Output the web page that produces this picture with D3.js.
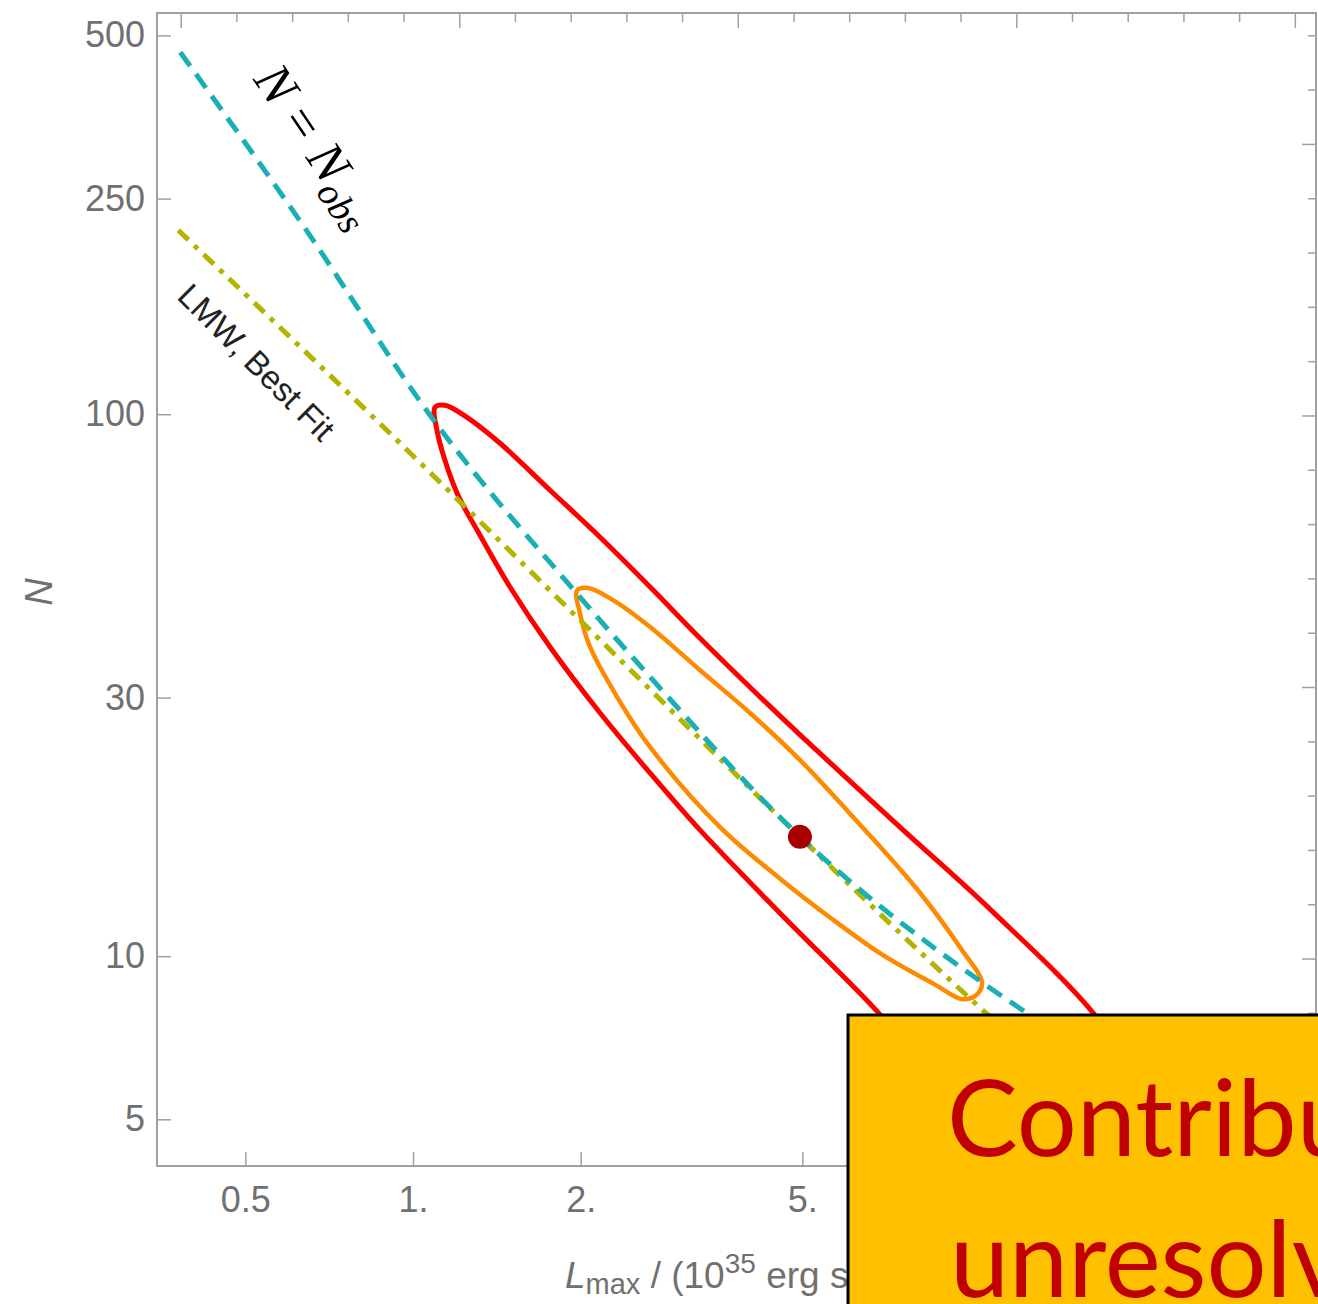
<!DOCTYPE html>
<html>
<head>
<meta charset="utf-8">
<script src="https://cdn.jsdelivr.net/npm/d3@7"></script>
<style>
body { margin: 0; background: #fff; overflow: hidden; }
</style>
</head>
<body>
<div id="chart"></div>
<script>
// values: [Lmax in 10^35 erg/s, N]
var nObsCurve = [[0.382, 465.6], [0.640, 220.3], [1.073, 99.6], [1.994, 45.97], [2.697, 32.3],
	[4.752, 17.3], [10.55, 8.92], [12.66, 7.85], [25.9, 4.78]];
var lmwCurve = [[0.379, 218.5], [0.948, 88.4], [1.994, 41.7], [4.75, 17.3], [10.68, 7.85], [25.9, 3.55]];
var outerContour = [[1.095, 103.0], [1.141, 103.9], [1.250, 98.7], [1.433, 88.4], [1.762, 72.4],
	[2.167, 59.3], [2.665, 48.0], [3.276, 38.6], [4.027, 31.35], [4.953, 25.6], [7.486, 17.3],
	[10.86, 12.21], [16.77, 7.78], [20.2, 5.78], [24.3, 4.12],
	[25.9, 3.12], [21.0, 2.87], [13.9, 3.70], [9.60, 5.43], [7.80, 6.71], [6.78, 7.95],
	[4.56, 12.0], [3.276, 17.08], [2.665, 21.76], [2.167, 28.1], [1.762, 37.2],
	[1.493, 48.0], [1.319, 59.8], [1.204, 70.9], [1.141, 82.2], [1.104, 93.4]];
var innerContour = [[1.970, 47.3], [2.062, 47.8], [2.286, 45.4], [2.665, 40.5], [3.276, 33.7],
	[4.027, 28.1], [4.953, 23.0], [6.066, 18.4], [8.03, 13.3], [9.67, 10.26], [10.51, 8.92],
	[10.21, 8.44], [9.67, 8.33], [8.62, 8.88], [6.98, 10.04], [5.63, 11.75], [4.56, 13.9],
	[3.557, 17.3], [2.665, 24.3], [2.324, 30.1], [2.079, 37.2], [1.994, 42.9]];
var bestFit = [[4.95, 16.6]];

var xTicks = [0.5, 1, 2, 5];
var xTickLabels = ["0.5", "1.", "2.", "5."];
var yTicks = [5, 10, 30, 100, 250, 500];
var topMinor = [1, 2, 3, 4, 6, 7, 8, 9, 11, 12, 13, 14, 16, 17, 18, 19];
var topMajor = [0, 5, 10, 15, 20];
var rightMinor = [0, 1, 3, 4, 5, 6, 8, 9, 10, 11, 13, 14, 15, 16, 18, 19, 20];
var rightMajor = [2, 7, 12, 17];

var frameL = 157, frameR = 1316, frameT = 13, frameB = 1166;
var frameColor = "#a0a0a0", labelColor = "#707070";

var svg = d3.select("#chart").append("svg")
	.attr("width", 1318)
	.attr("height", 1304)
	.style("font-family", "'Liberation Sans', Arial, sans-serif");

var x = d3.scaleLog().domain([0.347, 41.8]).range([frameL, frameR]);
var y = d3.scaleLog().domain([4.1, 550]).range([frameB, frameT]);
var xTop = d3.scaleLinear().domain([-0.4255, 20.38]).range([frameL, frameR]);
var yRight = d3.scaleLinear().domain([-0.411, 20.82]).range([frameT, frameB]);

svg.append("clipPath").attr("id", "plot")
	.append("rect")
	.attr("x", frameL).attr("y", frameT)
	.attr("width", frameR - frameL).attr("height", frameB - frameT);

function styleAxis(g) {
	g.select(".domain").remove();
	g.selectAll(".tick line").attr("stroke", frameColor).attr("stroke-width", 1.5);
	g.selectAll(".tick text").attr("fill", labelColor)
		.style("font-family", "'Liberation Sans', Arial, sans-serif")
		.style("font-size", "36px");
}

// frame
svg.append("rect")
	.attr("x", frameL).attr("y", frameT)
	.attr("width", frameR - frameL).attr("height", frameB - frameT)
	.attr("fill", "none")
	.attr("stroke", frameColor)
	.attr("stroke-width", 2);

svg.append("g")
	.attr("transform", "translate(0," + frameB + ")")
	.call(d3.axisBottom(x).tickValues(xTicks)
		.tickFormat(function (d, i) { return xTickLabels[i]; })
		.tickSize(-14).tickPadding(20).tickSizeOuter(0))
	.call(styleAxis);

svg.append("g")
	.attr("transform", "translate(" + frameL + ",0)")
	.call(d3.axisLeft(y).tickValues(yTicks)
		.tickFormat(d3.format("d"))
		.tickSize(-14).tickPadding(12).tickSizeOuter(0))
	.call(styleAxis);

svg.append("g")
	.attr("transform", "translate(0," + frameT + ")")
	.call(d3.axisTop(xTop).tickValues(topMinor).tickFormat("").tickSize(-9).tickSizeOuter(0))
	.call(styleAxis);
svg.append("g")
	.attr("transform", "translate(0," + frameT + ")")
	.call(d3.axisTop(xTop).tickValues(topMajor).tickFormat("").tickSize(-15).tickSizeOuter(0))
	.call(styleAxis);

svg.append("g")
	.attr("transform", "translate(" + frameR + ",0)")
	.call(d3.axisRight(yRight).tickValues(rightMinor).tickFormat("").tickSize(-8).tickSizeOuter(0))
	.call(styleAxis);
svg.append("g")
	.attr("transform", "translate(" + frameR + ",0)")
	.call(d3.axisRight(yRight).tickValues(rightMajor).tickFormat("").tickSize(-14).tickSizeOuter(0))
	.call(styleAxis);

// axis titles
svg.append("text")
	.attr("transform", "translate(52,592) rotate(-90)")
	.attr("text-anchor", "middle")
	.attr("fill", labelColor)
	.style("font-size", "38px")
	.style("font-style", "italic")
	.text("N");

var xTitle = svg.append("text")
	.attr("x", 565).attr("y", 1288)
	.attr("fill", labelColor)
	.style("font-size", "37px");
xTitle.append("tspan").style("font-style", "italic").text("L");
xTitle.append("tspan").attr("dy", 6).style("font-size", "29px").text("max");
xTitle.append("tspan").attr("dy", -6).text(" / (10");
xTitle.append("tspan").attr("dy", -15).style("font-size", "28px").text("35");
xTitle.append("tspan").attr("dy", 15).text(" erg s");
xTitle.append("tspan").attr("dy", -15).style("font-size", "28px").text("\u22121");
xTitle.append("tspan").attr("dy", 15).text(")");

// curves
var plot = svg.append("g").attr("clip-path", "url(#plot)");

var contourLine = d3.line()
	.x(function (d) { return x(d[0]); })
	.y(function (d) { return y(d[1]); })
	.curve(d3.curveCatmullRomClosed.alpha(0.5));
var curveLine = d3.line()
	.x(function (d) { return x(d[0]); })
	.y(function (d) { return y(d[1]); })
	.curve(d3.curveMonotoneX);

plot.append("path").datum(outerContour)
	.attr("d", contourLine)
	.attr("fill", "none")
	.attr("stroke", "#ff0000")
	.attr("stroke-width", 5);
plot.append("path").datum(innerContour)
	.attr("d", contourLine)
	.attr("fill", "none")
	.attr("stroke", "#ff8a00")
	.attr("stroke-width", 4.5);

plot.append("path").datum(lmwCurve)
	.attr("d", curveLine)
	.attr("fill", "none")
	.attr("stroke", "#b3b400")
	.attr("stroke-width", 5)
	.attr("stroke-dasharray", "14,8,5,8");
plot.append("path").datum(nObsCurve)
	.attr("d", curveLine)
	.attr("fill", "none")
	.attr("stroke", "#19afb4")
	.attr("stroke-width", 5)
	.attr("stroke-dasharray", "17,10");

plot.selectAll("circle")
	.data(bestFit)
	.enter()
	.append("circle")
	.attr("cx", function (d) { return x(d[0]); })
	.attr("cy", function (d) { return y(d[1]); })
	.attr("r", 12)
	.attr("fill", "#a80000");

// line labels
var nLabel = svg.append("text")
	.attr("transform", "translate(" + x(0.515) + "," + y(415) + ") rotate(56)")
	.attr("fill", "#000")
	.style("font-family", "'Liberation Serif', 'DejaVu Serif', serif")
	.style("font-size", "52px");
nLabel.append("tspan").style("font-style", "italic").text("N");
nLabel.append("tspan").attr("dx", 15).text("=");
nLabel.append("tspan").attr("dx", 15).style("font-style", "italic").text("N");
nLabel.append("tspan").attr("dy", 11).style("font-style", "italic").style("font-size", "38px").text("obs");

svg.append("text")
	.attr("transform", "translate(" + x(0.375) + "," + y(164) + ") rotate(45)")
	.attr("fill", "#222")
	.style("font-size", "33px")
	.text("LMW, Best Fit");

// overlay box
svg.append("rect")
	.attr("x", 848).attr("y", 1015)
	.attr("width", 520).attr("height", 320)
	.attr("fill", "#ffc000")
	.attr("stroke", "#000")
	.attr("stroke-width", 3);
svg.append("text")
	.attr("x", 947).attr("y", 1156)
	.attr("fill", "#c00000")
	.style("font-family", "Lato, 'Open Sans', sans-serif")
	.style("font-size", "106px")
	.text("Contribution from");
svg.append("text")
	.attr("x", 950).attr("y", 1297)
	.attr("fill", "#c00000")
	.style("font-family", "Lato, 'Open Sans', sans-serif")
	.style("font-size", "106px")
	.text("unresolved sources");
</script>
</body>
</html>
